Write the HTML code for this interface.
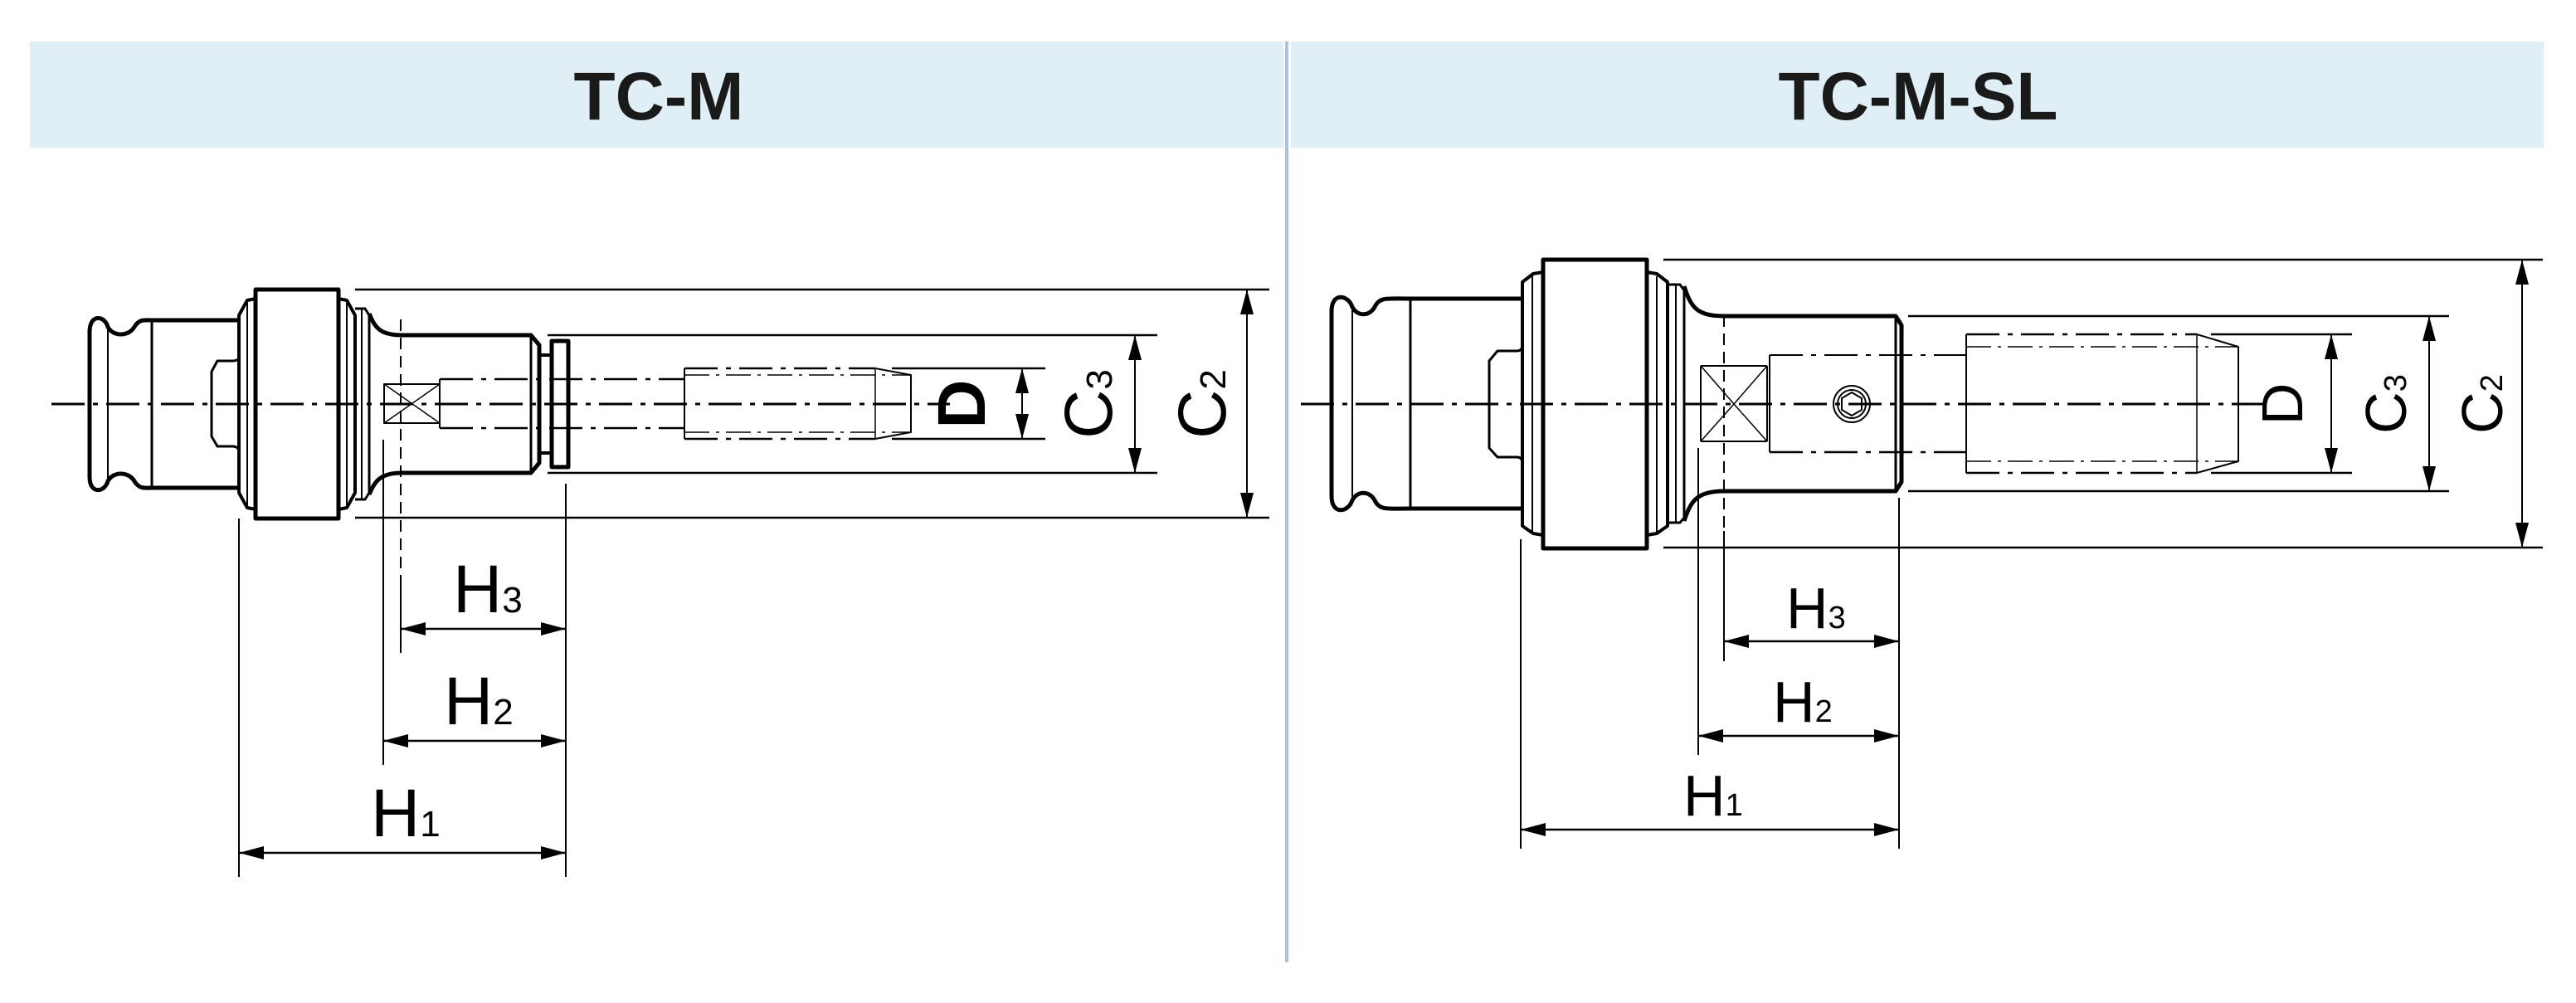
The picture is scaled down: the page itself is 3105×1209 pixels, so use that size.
<!DOCTYPE html>
<html><head><meta charset="utf-8"><style>
html,body{margin:0;padding:0;background:#fff;}
svg{display:block;}
</style></head><body>
<svg width="3105" height="1209" viewBox="0 0 3105 1209" xmlns="http://www.w3.org/2000/svg">
<defs>
<marker id="a" viewBox="0 0 30 16" refX="30" refY="8" markerWidth="30" markerHeight="16" markerUnits="userSpaceOnUse" orient="auto-start-reverse"><path d="M0,0 L30,8 L0,16 Z" fill="#000"/></marker>
</defs>
<rect x="36" y="50" width="1511" height="128" fill="#e0eef5"/>
<rect x="1556" y="50" width="1510" height="128" fill="#e0eef5"/>
<line x1="1551" y1="50" x2="1551" y2="1160" stroke="#a9c2e6" stroke-width="4"/>
<text x="794" y="144" font-family="Liberation Sans, sans-serif" font-weight="bold" font-size="82" text-anchor="middle" fill="#1a1a1a">TC-M</text>
<text x="2312" y="144" font-family="Liberation Sans, sans-serif" font-weight="bold" font-size="82" text-anchor="middle" fill="#1a1a1a">TC-M-SL</text>

<g fill="none" stroke="#000" stroke-linejoin="round">
<line x1="62" y1="487" x2="1145" y2="487" stroke-width="3" stroke-dasharray="40,10,6,10"/>
<path d="M108,400 C108,378 126,380 130,394 C136,406 155,406 162,394 C168,384 175,386 183,386 L288,386 M108,400 L108,575 M108,575 C108,596 126,594 130,580 C136,568 155,568 162,580 C168,590 175,588 183,588 L288,588" stroke-width="5"/>
<line x1="130" y1="394" x2="130" y2="580" stroke-width="2"/>
<line x1="183" y1="386" x2="183" y2="588" stroke-width="3"/>
<path d="M288,386 L288,430 Q288,435 280,435 L262,435 L255,448 L255,526 L262,538 L280,538 Q288,538 288,545 L288,588" stroke-width="3"/>
<path d="M308,360 L298,362 L288,380 L288,594 L298,612 L308,614" stroke-width="4"/>
<line x1="298" y1="365" x2="298" y2="610" stroke-width="2"/>
<rect x="308" y="349" width="100" height="276" stroke-width="5"/>
<path d="M408,360 L418,362 L428,380 L428,594 L418,612 L408,614" stroke-width="4"/>
<line x1="418" y1="365" x2="418" y2="610" stroke-width="2"/>
<path d="M428,372 L440,372 L445,380 L445,594 L440,602 L428,602" stroke-width="3"/>
<line x1="436" y1="372" x2="436" y2="602" stroke-width="2"/>
<path d="M445,378 C452,395 458,404 485,404 L640,404 L650,416 L650,558 L640,570 L485,570 C458,570 452,580 445,596" stroke-width="5"/>
<line x1="640" y1="404" x2="640" y2="570" stroke-width="3"/>
<rect x="665" y="411" width="20" height="152" stroke-width="5"/>
<line x1="650" y1="428" x2="665" y2="428" stroke-width="4"/>
<line x1="650" y1="546" x2="665" y2="546" stroke-width="4"/>
<rect x="463" y="463" width="67" height="47" stroke-width="2"/>
<path d="M463,463 L530,510 M530,463 L463,510" stroke-width="1.5"/>
<line x1="530" y1="457" x2="825" y2="457" stroke-width="2.5" stroke-dasharray="40,10,6,10"/>
<line x1="530" y1="516" x2="825" y2="516" stroke-width="2.5" stroke-dasharray="40,10,6,10"/>
<line x1="530" y1="457" x2="530" y2="516" stroke-width="2"/>
<line x1="825" y1="444" x2="825" y2="529" stroke-width="2"/>
<line x1="825" y1="444" x2="1055" y2="444" stroke-width="2.5" stroke-dasharray="40,10,6,10"/>
<line x1="825" y1="529" x2="1055" y2="529" stroke-width="2.5" stroke-dasharray="40,10,6,10"/>
<line x1="825" y1="452" x2="1098" y2="452" stroke-width="1.5" stroke-dasharray="30,8,4,8"/>
<line x1="825" y1="521" x2="1098" y2="521" stroke-width="1.5" stroke-dasharray="30,8,4,8"/>
<path d="M1055,444 L1098,452 L1098,521 L1055,529" stroke-width="2"/>
<line x1="1055" y1="444" x2="1055" y2="529" stroke-width="1.5"/>
<line x1="1075" y1="444" x2="1260" y2="444" stroke-width="2.5"/>
<line x1="1075" y1="529" x2="1260" y2="529" stroke-width="2.5"/>
<line x1="1232" y1="444" x2="1232" y2="529" stroke-width="2" marker-start="url(#a)" marker-end="url(#a)"/>
<line x1="660" y1="404" x2="1395" y2="404" stroke-width="2.5"/>
<line x1="660" y1="570" x2="1395" y2="570" stroke-width="2.5"/>
<line x1="1368" y1="404" x2="1368" y2="570" stroke-width="2" marker-start="url(#a)" marker-end="url(#a)"/>
<line x1="428" y1="349" x2="1530" y2="349" stroke-width="2.5"/>
<line x1="428" y1="624" x2="1530" y2="624" stroke-width="2.5"/>
<line x1="1503" y1="349" x2="1503" y2="624" stroke-width="2" marker-start="url(#a)" marker-end="url(#a)"/>
<line x1="288" y1="625" x2="288" y2="1057" stroke-width="2"/>
<line x1="462" y1="530" x2="462" y2="922" stroke-width="2"/>
<line x1="483" y1="385" x2="483" y2="787" stroke-width="2" stroke-dasharray="14,8"/>
<line x1="483" y1="700" x2="483" y2="787" stroke-width="2"/>
<line x1="682" y1="583" x2="682" y2="1057" stroke-width="2"/>
<line x1="483" y1="758" x2="682" y2="758" stroke-width="2.5" marker-start="url(#a)" marker-end="url(#a)"/>
<line x1="462" y1="893" x2="682" y2="893" stroke-width="2.5" marker-start="url(#a)" marker-end="url(#a)"/>
<line x1="288" y1="1028" x2="682" y2="1028" stroke-width="2.5" marker-start="url(#a)" marker-end="url(#a)"/>

<line x1="1568" y1="487" x2="2740" y2="487" stroke-width="3" stroke-dasharray="40,10,6,10"/>
<path d="M1605,375 C1605,352 1625,355 1630,370 C1636,382 1652,382 1658,368 C1664,358 1672,360 1700,360 L1835,360 M1605,375 L1605,598 M1605,598 C1605,621 1625,618 1630,603 C1636,591 1652,591 1658,605 C1664,615 1672,613 1700,613 L1835,613" stroke-width="5"/>
<line x1="1630" y1="370" x2="1630" y2="603" stroke-width="2"/>
<line x1="1700" y1="360" x2="1700" y2="613" stroke-width="3"/>
<path d="M1835,360 L1835,416 Q1835,423 1828,423 L1805,423 L1795,435 L1795,540 L1805,551 L1828,551 Q1835,551 1835,558 L1835,613" stroke-width="3"/>
<path d="M1860,328 L1848,330 L1835,340 L1835,634 L1848,643 L1860,645" stroke-width="4"/>
<line x1="1847" y1="333" x2="1847" y2="641" stroke-width="2"/>
<rect x="1860" y="313" width="125" height="348" stroke-width="5"/>
<path d="M1985,328 L1997,330 L2010,340 L2010,634 L1997,643 L1985,645" stroke-width="4"/>
<line x1="1997" y1="333" x2="1997" y2="641" stroke-width="2"/>
<path d="M2010,343 L2025,343 L2030,350 L2030,624 L2025,630 L2010,630" stroke-width="3"/>
<line x1="2020" y1="343" x2="2020" y2="630" stroke-width="2"/>
<path d="M2030,345 C2038,370 2045,381 2078,381 L2285,381 L2292,392 L2292,581 L2285,592 L2078,592 C2045,592 2038,604 2030,628" stroke-width="5"/>
<line x1="2285" y1="381" x2="2285" y2="592" stroke-width="3"/>
<path d="M2050,441 L2130,441 M2050,532 L2130,532 M2050,441 L2050,532 M2130,441 L2130,532" stroke-width="2"/>
<path d="M2050,441 L2090,487 L2130,441 M2050,532 L2090,487 L2130,532" stroke-width="1.5"/>
<circle cx="2232" cy="487" r="22" stroke-width="2"/>
<circle cx="2232" cy="487" r="17" stroke-width="2"/>
<path d="M2232,473 L2244,480 L2244,494 L2232,501 L2220,494 L2220,480 Z" stroke-width="2"/>
<line x1="2133" y1="428" x2="2370" y2="428" stroke-width="2" stroke-dasharray="40,10,6,10"/>
<line x1="2133" y1="545" x2="2370" y2="545" stroke-width="2.5" stroke-dasharray="40,10,6,10"/>
<line x1="2133" y1="428" x2="2133" y2="545" stroke-width="2"/>
<line x1="2370" y1="403" x2="2370" y2="570" stroke-width="2"/>
<line x1="2370" y1="403" x2="2648" y2="403" stroke-width="2.5" stroke-dasharray="40,10,6,10"/>
<line x1="2370" y1="570" x2="2648" y2="570" stroke-width="2.5" stroke-dasharray="40,10,6,10"/>
<line x1="2370" y1="418" x2="2698" y2="418" stroke-width="1.5" stroke-dasharray="30,8,4,8"/>
<line x1="2370" y1="556" x2="2698" y2="556" stroke-width="1.5" stroke-dasharray="30,8,4,8"/>
<path d="M2648,403 L2698,418 L2698,556 L2648,570" stroke-width="2"/>
<line x1="2648" y1="403" x2="2648" y2="570" stroke-width="1.5"/>
<line x1="2665" y1="403" x2="2835" y2="403" stroke-width="2.5"/>
<line x1="2665" y1="570" x2="2835" y2="570" stroke-width="2.5"/>
<line x1="2810" y1="403" x2="2810" y2="570" stroke-width="2" marker-start="url(#a)" marker-end="url(#a)"/>
<line x1="2300" y1="381" x2="2952" y2="381" stroke-width="2.5"/>
<line x1="2300" y1="592" x2="2952" y2="592" stroke-width="2.5"/>
<line x1="2928" y1="381" x2="2928" y2="592" stroke-width="2" marker-start="url(#a)" marker-end="url(#a)"/>
<line x1="2005" y1="313" x2="3065" y2="313" stroke-width="2.5"/>
<line x1="2005" y1="660" x2="3065" y2="660" stroke-width="2.5"/>
<line x1="3040" y1="313" x2="3040" y2="660" stroke-width="2" marker-start="url(#a)" marker-end="url(#a)"/>
<line x1="1833" y1="650" x2="1833" y2="1023" stroke-width="2"/>
<line x1="2047" y1="540" x2="2047" y2="910" stroke-width="2"/>
<line x1="2078" y1="380" x2="2078" y2="797" stroke-width="2" stroke-dasharray="14,8"/>
<line x1="2078" y1="640" x2="2078" y2="797" stroke-width="2"/>
<line x1="2289" y1="600" x2="2289" y2="1023" stroke-width="2"/>
<line x1="2078" y1="773" x2="2289" y2="773" stroke-width="2.5" marker-start="url(#a)" marker-end="url(#a)"/>
<line x1="2047" y1="887" x2="2289" y2="887" stroke-width="2.5" marker-start="url(#a)" marker-end="url(#a)"/>
<line x1="1833" y1="1000" x2="2289" y2="1000" stroke-width="2.5" marker-start="url(#a)" marker-end="url(#a)"/>
</g>

<g font-family="Liberation Sans, Noto Sans CJK JP, sans-serif" fill="#000">
<text x="546" y="738" font-size="82">H<tspan font-size="44">3</tspan></text>
<text x="535" y="873" font-size="82">H<tspan font-size="44">2</tspan></text>
<text x="447" y="1008" font-size="82">H<tspan font-size="44">1</tspan></text>
<text transform="translate(1157,487) rotate(-90)" x="0" y="30" font-size="82" font-weight="bold" text-anchor="middle">D</text>
<text transform="translate(1310,487) rotate(-90)" x="0" y="30" font-size="82" text-anchor="middle">C<tspan font-size="44">3</tspan></text>
<text transform="translate(1447,487) rotate(-90)" x="0" y="30" font-size="82" text-anchor="middle">C<tspan font-size="44">2</tspan></text>

<text x="2153" y="757" font-size="70">H<tspan font-size="38">3</tspan></text>
<text x="2137" y="870" font-size="70">H<tspan font-size="38">2</tspan></text>
<text x="2029" y="983" font-size="70">H<tspan font-size="38">1</tspan></text>
<text transform="translate(2749,487) rotate(-90)" x="0" y="26" font-size="70" text-anchor="middle">D</text>
<text transform="translate(2874,487) rotate(-90)" x="0" y="26" font-size="70" text-anchor="middle">C<tspan font-size="38">3</tspan></text>
<text transform="translate(2990,487) rotate(-90)" x="0" y="26" font-size="70" text-anchor="middle">C<tspan font-size="38">2</tspan></text>
</g>
</svg>
</body></html>
